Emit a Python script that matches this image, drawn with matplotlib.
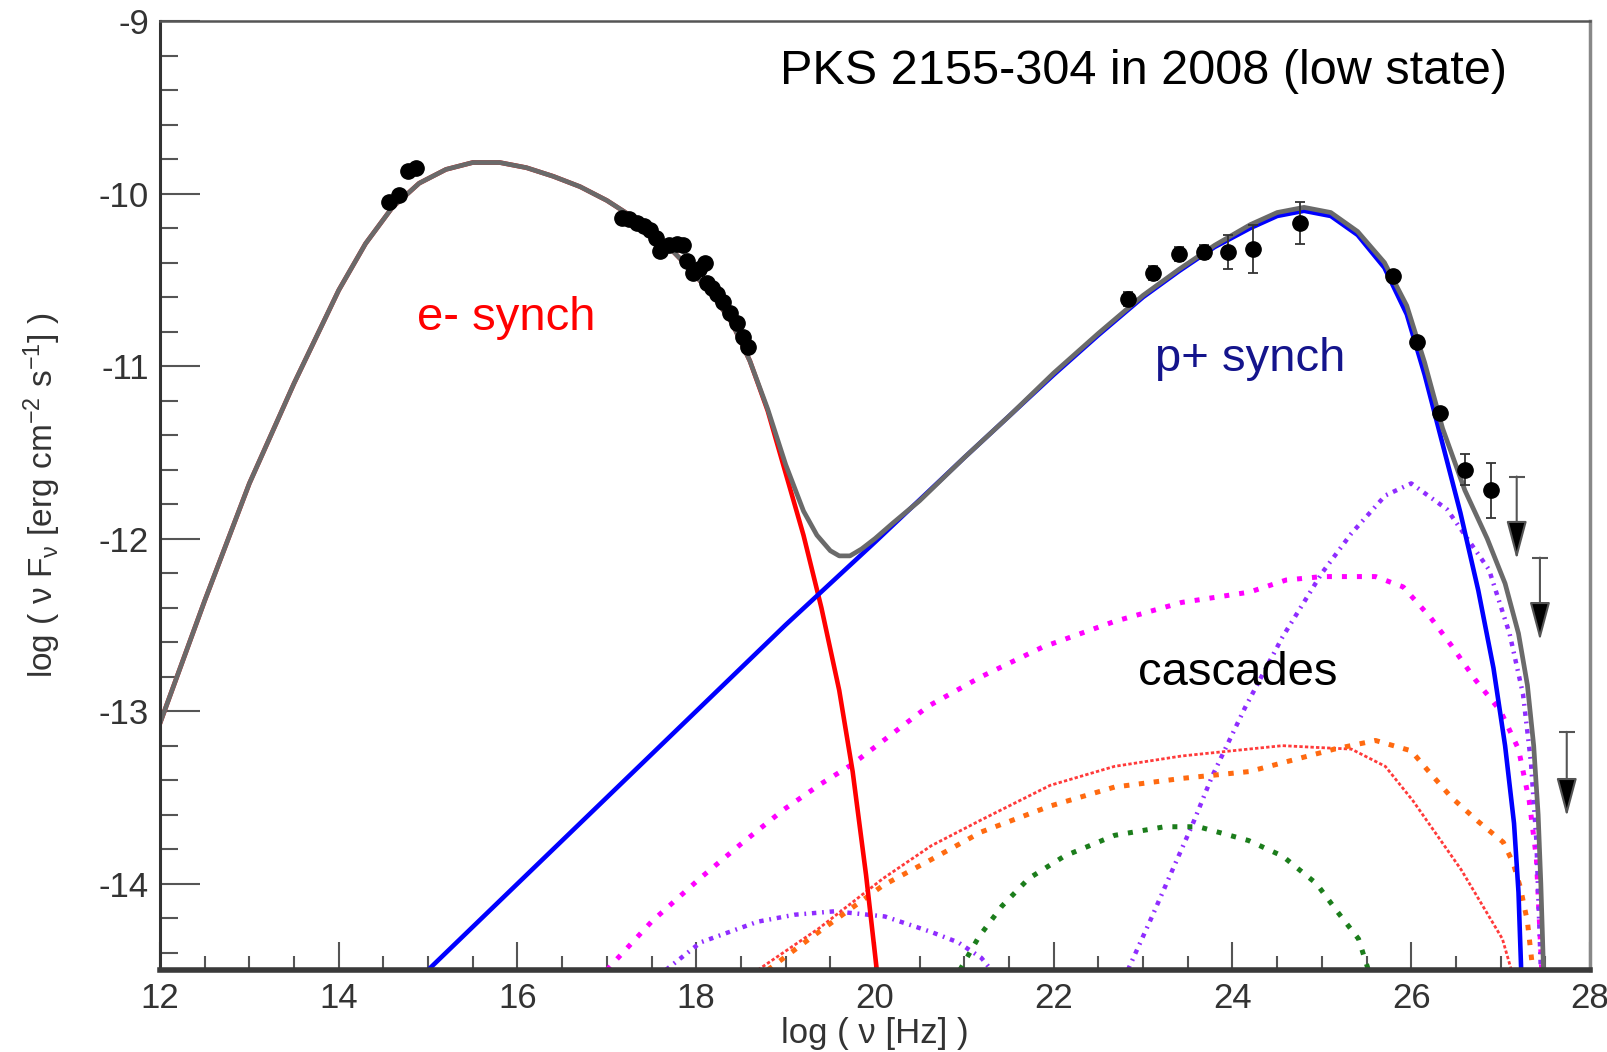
import matplotlib
matplotlib.use("Agg")
import matplotlib.pyplot as plt
from matplotlib.ticker import MultipleLocator

plt.rcParams['font.family'] = ['Liberation Sans', 'DejaVu Sans']
plt.rcParams['mathtext.fontset'] = 'custom'
plt.rcParams['mathtext.rm'] = 'Liberation Sans'
plt.rcParams['mathtext.default'] = 'regular'
plt.rcParams['axes.unicode_minus'] = False

# ---- model curves: log(nu) , log(nu F_nu) ----
# electron synchrotron
esyn_x = [12.0, 12.5, 13.0, 13.5, 14.0, 14.3, 14.6, 14.9, 15.2, 15.5, 15.8, 16.1, 16.4, 16.7,
          17.0, 17.3, 17.6, 17.9, 18.2, 18.4, 18.6, 18.8, 19.0, 19.2, 19.4, 19.6, 19.75, 19.9, 20.02]
esyn_y = [-13.07, -12.36, -11.68, -11.1, -10.56, -10.29, -10.08, -9.94, -9.86, -9.82, -9.82, -9.85, -9.9, -9.96,
          -10.04, -10.14, -10.26, -10.42, -10.6, -10.75, -10.97, -11.26, -11.62, -11.98, -12.4, -12.88, -13.35, -13.95, -14.5]

# proton synchrotron
psyn_x = [15.0, 16.0, 17.0, 18.0, 19.0, 20.0, 21.0, 22.0, 22.5, 23.0, 23.4, 23.8, 24.2, 24.5, 24.8,
          25.1, 25.4, 25.7, 25.95, 26.15, 26.35, 26.55, 26.75, 26.92, 27.05, 27.15, 27.2, 27.23]
psyn_y = [-14.5, -14.0, -13.5, -13.0, -12.5, -12.02, -11.53, -11.05, -10.82, -10.6, -10.45, -10.31, -10.2, -10.13, -10.1,
          -10.13, -10.24, -10.43, -10.7, -11.05, -11.45, -11.85, -12.3, -12.75, -13.2, -13.65, -14.05, -14.5]

# total
tot_x = [12.0, 12.5, 13.0, 13.5, 14.0, 14.3, 14.6, 14.9, 15.2, 15.5, 15.8, 16.1, 16.4, 16.7,
         17.0, 17.3, 17.6, 17.9, 18.2, 18.4, 18.6, 18.8, 19.0, 19.2, 19.35, 19.5, 19.6, 19.72, 19.85,
         20.0, 20.2, 20.5, 21.0, 21.5, 22.0, 22.5, 23.0, 23.4, 23.8, 24.2, 24.5, 24.8, 25.1, 25.4,
         25.7, 25.95, 26.15, 26.35, 26.6, 26.85, 27.05, 27.2, 27.3, 27.37, 27.42, 27.45, 27.48]
tot_y = [-13.07, -12.36, -11.68, -11.1, -10.56, -10.29, -10.08, -9.94, -9.86, -9.82, -9.82, -9.85, -9.9, -9.96,
         -10.04, -10.14, -10.26, -10.42, -10.6, -10.75, -10.97, -11.25, -11.57, -11.84, -11.98, -12.07, -12.1, -12.1, -12.06,
         -12.0, -11.91, -11.78, -11.53, -11.29, -11.04, -10.81, -10.59, -10.44, -10.3, -10.18, -10.11, -10.08, -10.11, -10.22,
         -10.4, -10.65, -10.98, -11.36, -11.72, -12.0, -12.26, -12.55, -12.85, -13.2, -13.6, -14.0, -14.5]

# cascades
mag_x = [17.0, 17.5, 18.04, 18.5, 18.98, 19.4, 19.74, 20.07, 20.6, 21.19, 21.87, 22.68, 23.43, 24.19,
         24.6, 25.0, 25.6, 25.91, 26.22, 26.45, 26.72, 27.0, 27.2, 27.32, 27.4, 27.46]
mag_y = [-14.5, -14.22, -13.97, -13.77, -13.57, -13.42, -13.31, -13.18, -12.97, -12.8, -12.63, -12.48, -12.37, -12.31,
         -12.24, -12.22, -12.22, -12.28, -12.46, -12.62, -12.82, -13.0, -13.22, -13.52, -13.85, -14.5]

purp1_x = [17.66, 18.05, 18.69, 19.1, 19.55, 20.11, 20.63, 20.93, 21.19, 21.3]
purp1_y = [-14.5, -14.34, -14.22, -14.18, -14.16, -14.19, -14.28, -14.34, -14.43, -14.5]

purp2_x = [22.83, 23.1, 23.32, 23.55, 23.77, 24.14, 24.56, 25.0, 25.33, 25.71, 26.0, 26.4,
           26.87, 27.1, 27.25, 27.34, 27.4, 27.45]
purp2_y = [-14.5, -14.19, -13.93, -13.66, -13.38, -12.98, -12.57, -12.2, -11.97, -11.75, -11.68, -11.83,
           -12.18, -12.55, -12.9, -13.3, -13.75, -14.5]

redc_x = [18.69, 19.37, 20.09, 20.63, 21.19, 21.96, 22.68, 23.43, 23.99, 24.56, 24.93, 25.33,
          25.71, 26.02, 26.29, 26.56, 26.79, 27.02, 27.12]
redc_y = [-14.5, -14.26, -13.97, -13.78, -13.63, -13.43, -13.32, -13.26, -13.23, -13.2, -13.21, -13.22,
          -13.32, -13.52, -13.72, -13.92, -14.12, -14.32, -14.5]

orng_x = [18.8, 19.37, 20.09, 20.63, 21.19, 21.96, 22.68, 23.43, 24.19, 24.7, 25.14, 25.6,
          26.0, 26.18, 26.45, 26.75, 27.03, 27.14, 27.22, 27.3, 27.36]
orng_y = [-14.5, -14.28, -14.01, -13.86, -13.7, -13.55, -13.44, -13.39, -13.35, -13.28, -13.22, -13.17,
          -13.23, -13.34, -13.5, -13.64, -13.76, -13.88, -14.02, -14.22, -14.5]

grn_x = [20.95, 21.16, 21.42, 21.72, 22.12, 22.68, 23.24, 23.62, 24.18, 24.56, 24.94, 25.17, 25.41, 25.52]
grn_y = [-14.5, -14.31, -14.13, -13.97, -13.84, -13.72, -13.67, -13.67, -13.75, -13.84, -14.0, -14.16, -14.32, -14.5]

# ---- data ----
opt_x = [14.56, 14.67, 14.77, 14.86]
opt_y = [-10.05, -10.01, -9.87, -9.85]

xray_x = [17.17, 17.25, 17.34, 17.42, 17.48, 17.55, 17.59, 17.7, 17.78, 17.85, 17.9, 17.96,
          18.03, 18.1, 18.12, 18.18, 18.23, 18.3, 18.38, 18.46, 18.52, 18.58]
xray_y = [-10.14, -10.15, -10.17, -10.19, -10.21, -10.26, -10.33, -10.3, -10.29, -10.3, -10.39, -10.46,
          -10.44, -10.4, -10.52, -10.55, -10.58, -10.63, -10.69, -10.75, -10.83, -10.89]

fermi_x = [22.83, 23.11, 23.40, 23.68, 23.95, 24.23, 24.75]
fermi_y = [-10.61, -10.46, -10.35, -10.34, -10.34, -10.32, -10.17]
fermi_err = [0.04, 0.04, 0.04, 0.04, 0.10, 0.14, 0.12]

hess_x = [25.80, 26.06, 26.32, 26.60, 26.89]
hess_y = [-10.48, -10.86, -11.27, -11.60, -11.72]
hess_err = [0.0, 0.0, 0.0, 0.09, 0.16]

ul_x = [27.18, 27.44, 27.74]
ul_top = [-11.64, -12.11, -13.12]
ul_tip = [-12.12, -12.59, -13.61]

# ---- figure ----
fig = plt.figure(figsize=(16.08, 10.52), dpi=100)
ax = fig.add_axes([0.0995, 0.078, 0.8893, 0.902])

# cascade components
ax.plot(mag_x, mag_y, color='#ff00ff', lw=3.6, ls=(0, (1, 2)))
ax.plot(purp1_x, purp1_y, color='#8f2cff', lw=3.2, ls=(0, (1, 1.3, 0.4, 1.3)))
ax.plot(purp2_x, purp2_y, color='#8f2cff', lw=3.2, ls=(0, (1, 1.3, 0.4, 1.3)))
ax.plot(redc_x, redc_y, color='#ff3a3a', lw=2.0, ls=(0, (1.2, 0.8)))
ax.plot(orng_x, orng_y, color='#ff6a10', lw=3.6, ls=(0, (1.1, 1.9)))
ax.plot(grn_x, grn_y, color='#1b7d1b', lw=3.6, ls=(0, (1, 2)))

# synchrotron components + total
ax.plot(esyn_x, esyn_y, color='#ff0000', lw=3.3)
ax.plot(psyn_x, psyn_y, color='#0000ff', lw=3.3)
ax.plot(tot_x, tot_y, color='#6a6a6a', lw=3.4)

# data points
ax.plot(opt_x, opt_y, 'o', color='k', ms=11)
ax.plot(xray_x, xray_y, 'o', color='k', ms=11)
ax.errorbar(fermi_x, fermi_y, yerr=fermi_err, fmt='o', color='k', ms=11,
            ecolor='#333333', elinewidth=1.3, capsize=3.5, capthick=1.3)
ax.errorbar(hess_x, hess_y, yerr=hess_err, fmt='o', color='k', ms=11,
            ecolor='#333333', elinewidth=1.3, capsize=3.5, capthick=1.3)

# upper limits
for x, t, b in zip(ul_x, ul_top, ul_tip):
    ax.annotate('', xy=(x, b), xytext=(x, t),
                arrowprops=dict(arrowstyle='-|>,head_length=1.2,head_width=0.32',
                                mutation_scale=20, lw=1.5, fc='k', ec='#555555',
                                shrinkA=0, shrinkB=0))
ax.plot(ul_x, ul_top, ls='none', marker='_', ms=11, mew=1.5, color='#555555')

# text
ax.text(18.94, -9.29, 'PKS 2155-304 in 2008 (low state)', fontsize=35, va='center', ha='left')
ax.text(15.87, -10.72, 'e- synch', fontsize=34, color='#ff0000', va='center', ha='center')
ax.text(24.2, -10.96, 'p+ synch', fontsize=34, color='#14148c', va='center', ha='center')
ax.text(24.06, -12.78, 'cascades', fontsize=34, color='k', va='center', ha='center')

# axes
ax.set_xlim(12, 28)
ax.set_ylim(-14.5, -9)
ax.xaxis.set_major_locator(MultipleLocator(2))
ax.xaxis.set_minor_locator(MultipleLocator(0.5))
ax.yaxis.set_major_locator(MultipleLocator(1))
ax.yaxis.set_minor_locator(MultipleLocator(0.2))
ax.tick_params(axis='x', which='major', direction='in', length=20, width=1.5, color='#555555',
               labelsize=25, labelcolor='#333333', pad=9, top=False)
ax.tick_params(axis='x', which='minor', direction='in', length=10, width=1.5, color='#555555', top=False)
ax.tick_params(axis='y', which='major', direction='in', length=29, width=1.5, color='#555555',
               labelsize=25, labelcolor='#333333', pad=8, right=False)
ax.tick_params(axis='y', which='minor', direction='in', length=13, width=1.5, color='#555555', right=False)

ax.set_xlabel('log ( ν [Hz] )', fontsize=25, color='#333333')
ax.xaxis.set_label_coords(0.5, -0.05)
ax.set_ylabel('log ( ν F$_{ν}$ [erg cm$^{-2}$ s$^{-1}$] )', fontsize=24, color='#333333')
ax.yaxis.set_label_coords(-0.068, 0.5)

ax.spines['left'].set_linewidth(2.2)
ax.spines['left'].set_color('#333333')
ax.spines['bottom'].set_linewidth(4)
ax.spines['bottom'].set_color('#3a3a3a')
ax.spines['top'].set_linewidth(1.8)
ax.spines['top'].set_color('#555555')
ax.spines['right'].set_linewidth(2.5)
ax.spines['right'].set_color('#888888')

fig.savefig('out.png', dpi=100)
